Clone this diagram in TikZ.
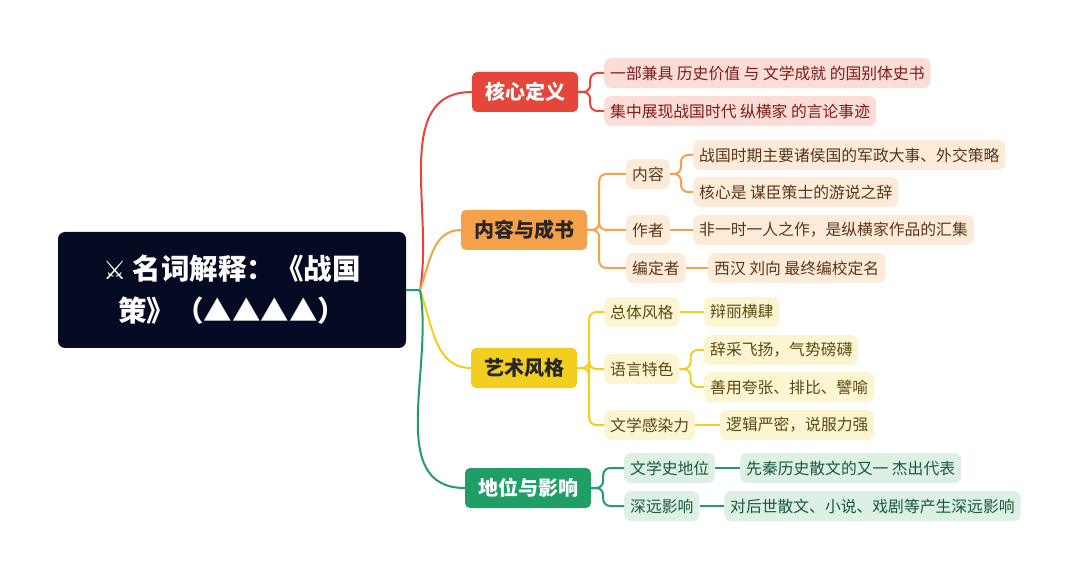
\documentclass[tikz,border=0pt]{standalone}
\usepackage{fontspec}
\setmainfont{Noto Sans CJK SC}
\newfontfamily\symfont{DejaVu Sans}
\usepackage{tikz}
\usetikzlibrary{positioning}
\definecolor{RootBg}{HTML}{060B24}
\definecolor{RedMain}{HTML}{E5453B}
\definecolor{RedLeaf}{HTML}{FBDCD6}
\definecolor{RedText}{HTML}{7A1E18}
\definecolor{OraMain}{HTML}{F5A04A}
\definecolor{OraLeaf}{HTML}{FDEBD9}
\definecolor{OraText}{HTML}{5A3618}
\definecolor{YelMain}{HTML}{F2CE1F}
\definecolor{YelLeaf}{HTML}{FDF5D2}
\definecolor{YelText}{HTML}{5A4A10}
\definecolor{GrnMain}{HTML}{1F9E68}
\definecolor{GrnLeaf}{HTML}{DCF0E4}
\definecolor{GrnText}{HTML}{185A38}
\tikzset{
	branch/.style={rounded corners=5pt, minimum height=40pt, inner xsep=13pt, font=\fontsize{20}{20}\selectfont\bfseries},
	leaf/.style={rounded corners=7pt, minimum height=30pt, inner xsep=6pt, font=\fontsize{15.8}{15.8}\selectfont},
	link/.style={line width=2pt, rounded corners=7pt},
}
\begin{document}
\begin{tikzpicture}[x=1pt,y=-1pt]
	\useasboundingbox (0,0) rectangle (1080,580);
	
	% ---------------------
	% Root
	\node[fill=RootBg, rounded corners=7pt, minimum width=348pt, minimum height=116pt, text=white, align=center,
		font=\fontsize{28.5}{42}\selectfont\bfseries] (root) at (232,290)
		{{\symfont\fontsize{26}{26}\selectfont ⚔}\ 名词解释：《战国\\策》（▲▲▲▲）};
	\coordinate (J) at (420,290);
	
	% ---------------------
	% Branches
	\node[branch, fill=RedMain, text=white] (core) at (525,92) {核心定义};
	\node[branch, fill=OraMain, text=black!85] (cont) at (524,230) {内容与成书};
	\node[branch, fill=YelMain, text=black!85] (art) at (524,368) {艺术风格};
	\node[branch, fill=GrnMain, text=white] (stat) at (528,488) {地位与影响};
	
	\draw[GrnMain, line width=2pt] (root.east) -- (J);
	\draw[RedMain, line width=2pt] (J) to[out=80,in=180] (core.west);
	\draw[OraMain, line width=2pt] (J) to[out=70,in=180] (cont.west);
	\draw[YelMain, line width=2pt] (J) to[out=-70,in=180] (art.west);
	\draw[GrnMain, line width=2pt] (J) to[out=-80,in=180] (stat.west);
	
	% ---------------------
	% Core definition
	\node[leaf, fill=RedLeaf, text=RedText, anchor=west] (c1) at (604,73) {一部兼具 历史价值 与 文学成就 的国别体史书};
	\node[leaf, fill=RedLeaf, text=RedText, anchor=west] (c2) at (604,111) {集中展现战国时代 纵横家 的言论事迹};
	\foreach \n in {c1,c2}
		\draw[link, RedMain] (core.east) -- ++(12,0) |- (\n.west);
	
	% ---------------------
	% Content & authorship
	\node[leaf, fill=OraLeaf, text=OraText, anchor=west] (nr) at (626,174) {内容};
	\node[leaf, fill=OraLeaf, text=OraText, anchor=west] (zz) at (626,230) {作者};
	\node[leaf, fill=OraLeaf, text=OraText, anchor=west] (bd) at (626,268) {编定者};
	\foreach \n in {nr,zz,bd}
		\draw[link, OraMain] (cont.east) -- ++(12,0) |- (\n.west);
	
	\node[leaf, fill=OraLeaf, text=OraText, anchor=west] (nr1) at (693,155) {战国时期主要诸侯国的军政大事、外交策略};
	\node[leaf, fill=OraLeaf, text=OraText, anchor=west] (nr2) at (693,192) {核心是 谋臣策士的游说之辞};
	\node[leaf, fill=OraLeaf, text=OraText, anchor=west] (zz1) at (693,230) {非一时一人之作，是纵横家作品的汇集};
	\node[leaf, fill=OraLeaf, text=OraText, anchor=west] (bd1) at (708,268) {西汉 刘向 最终编校定名};
	\foreach \n in {nr1,nr2}
		\draw[link, OraMain] (nr.east) -- ++(11,0) |- (\n.west);
	\draw[link, OraMain] (zz) -- (zz1);
	\draw[link, OraMain] (bd) -- (bd1);
	
	% ---------------------
	% Artistic style
	\node[leaf, fill=YelLeaf, text=YelText, anchor=west] (zt) at (604,312) {总体风格};
	\node[leaf, fill=YelLeaf, text=YelText, anchor=west] (yy) at (604,369) {语言特色};
	\node[leaf, fill=YelLeaf, text=YelText, anchor=west] (gr) at (604,425) {文学感染力};
	\foreach \n in {zt,yy,gr}
		\draw[link, YelMain] (art.east) -- ++(12,0) |- (\n.west);
	
	\node[leaf, fill=YelLeaf, text=YelText, anchor=west] (zt1) at (704,312) {辩丽横肆};
	\node[leaf, fill=YelLeaf, text=YelText, anchor=west] (yy1) at (704,350) {辞采飞扬，气势磅礴};
	\node[leaf, fill=YelLeaf, text=YelText, anchor=west] (yy2) at (704,387) {善用夸张、排比、譬喻};
	\node[leaf, fill=YelLeaf, text=YelText, anchor=west] (gr1) at (720,425) {逻辑严密，说服力强};
	\draw[link, YelMain] (zt) -- (zt1);
	\foreach \n in {yy1,yy2}
		\draw[link, YelMain] (yy.east) -- ++(11,0) |- (\n.west);
	\draw[link, YelMain] (gr) -- (gr1);
	
	% ---------------------
	% Status & influence
	\node[leaf, fill=GrnLeaf, text=GrnText, anchor=west] (wx) at (624,468) {文学史地位};
	\node[leaf, fill=GrnLeaf, text=GrnText, anchor=west] (sy) at (624,506) {深远影响};
	\foreach \n in {wx,sy}
		\draw[link, GrnMain] (stat.east) -- ++(12,0) |- (\n.west);
	
	\node[leaf, fill=GrnLeaf, text=GrnText, anchor=west] (wx1) at (740,468) {先秦历史散文的又一 杰出代表};
	\node[leaf, fill=GrnLeaf, text=GrnText, anchor=west] (sy1) at (724,506) {对后世散文、小说、戏剧等产生深远影响};
	\draw[link, GrnMain] (wx) -- (wx1);
	\draw[link, GrnMain] (sy) -- (sy1);
\end{tikzpicture}
\end{document}
